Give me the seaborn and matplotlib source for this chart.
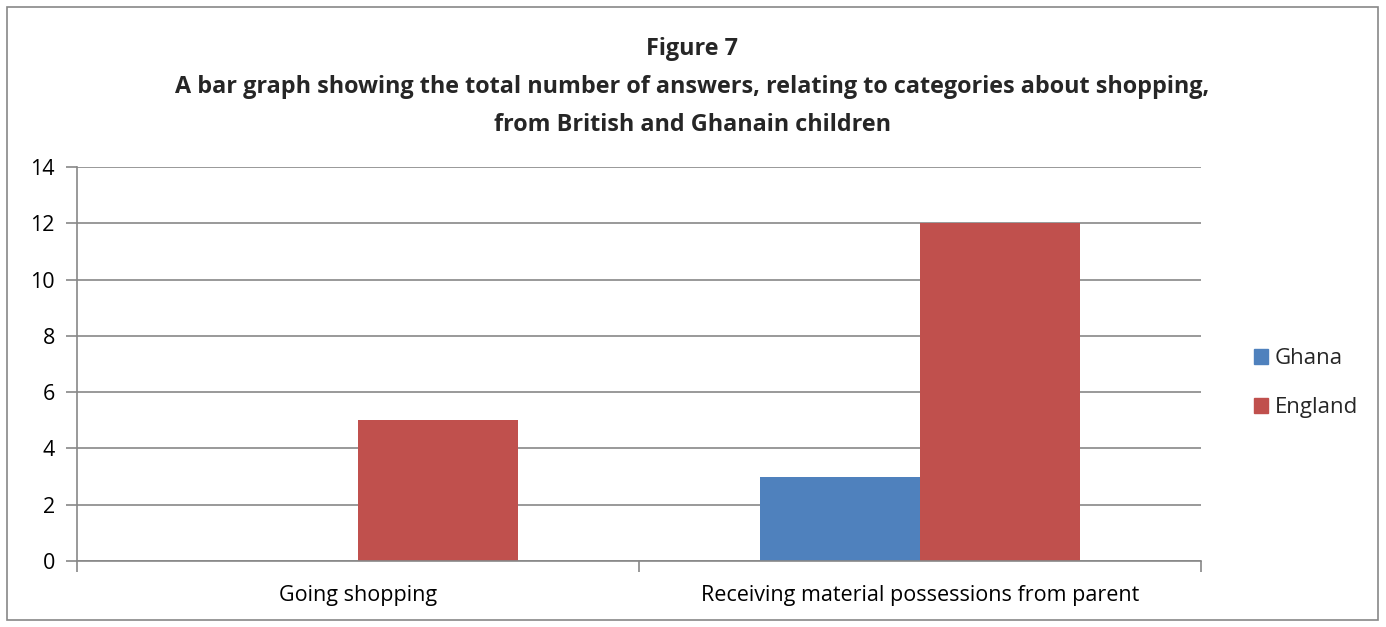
import matplotlib
matplotlib.use("Agg")
import matplotlib.pyplot as plt
import matplotlib.patches as mpatches
from matplotlib.ticker import FixedLocator, MultipleLocator
import seaborn as sns
import pandas as pd

categories = ["Going shopping", "Receiving material possessions from parent"]
ghana = [0, 3]
england = [5, 12]
series_names = ["Ghana", "England"]
colors = ["#4F81BD", "#C0504D"]
title = ("Figure 7\nA bar graph showing the total number of answers, relating to categories about shopping,\n"
         "from British and Ghanain children")

df = pd.DataFrame({
    "category": categories * 2,
    "count": ghana + england,
    "country": [series_names[0]] * len(categories) + [series_names[1]] * len(categories),
})

sns.set_theme(style="white")
plt.rcParams["font.family"] = ["Open Sans", "DejaVu Sans"]

fig = plt.figure(figsize=(13.86, 6.27), dpi=100)
ax = fig.add_axes([77 / 1386, 1 - 561 / 627, (1201 - 77) / 1386, (561 - 167) / 627])

sns.barplot(data=df, x="category", y="count", hue="country", order=categories,
            hue_order=series_names, palette=colors, width=0.57, saturation=1,
            edgecolor="none", ax=ax)

ax.set_xlim(-0.5, len(categories) - 0.5)
ax.set_ylim(0, 14)
ax.yaxis.set_major_locator(MultipleLocator(2))
ax.set_xlabel("")
ax.set_ylabel("")
ax.grid(axis="y", color="#878787", linewidth=1.2)
ax.set_axisbelow(True)
for side in ["top", "right"]:
    ax.spines[side].set_visible(False)
for side in ["left", "bottom"]:
    ax.spines[side].set_color("#878787")
    ax.spines[side].set_linewidth(1.2)

ax.tick_params(axis="y", which="major", direction="out", length=8, width=1.2,
               color="#878787", labelsize=15.5, pad=8, left=True)
ax.tick_params(axis="x", which="major", length=0, labelsize=15.5, pad=17)
ax.xaxis.set_minor_locator(FixedLocator([-0.5 + i for i in range(len(categories) + 1)]))
ax.tick_params(axis="x", which="minor", direction="out", length=8, width=1.2,
               color="#878787", bottom=True)
for lbl in ax.get_yticklabels() + ax.get_xticklabels():
    lbl.set_color("black")

handles = [mpatches.Patch(color=c, label=n) for c, n in zip(colors, series_names)]
ax.get_legend().remove()
fig.legend(handles=handles, loc="center left", bbox_to_anchor=(1234 / 1386, 1 - 383 / 627),
           frameon=False, fontsize=16, handlelength=0.65, handleheight=0.65,
           handletextpad=0.3, labelspacing=1.25)

fig.text(692 / 1386, 1 - 87 / 627, title, ha="center", va="center",
         fontsize=16.8, fontweight="bold", linespacing=1.78)

fig.patches.append(mpatches.Rectangle((7 / 1386, 7 / 627), 1371 / 1386, 613 / 627,
                                      transform=fig.transFigure, fill=False,
                                      edgecolor="#878787", linewidth=1.2))

fig.savefig("out.png", dpi=100)
